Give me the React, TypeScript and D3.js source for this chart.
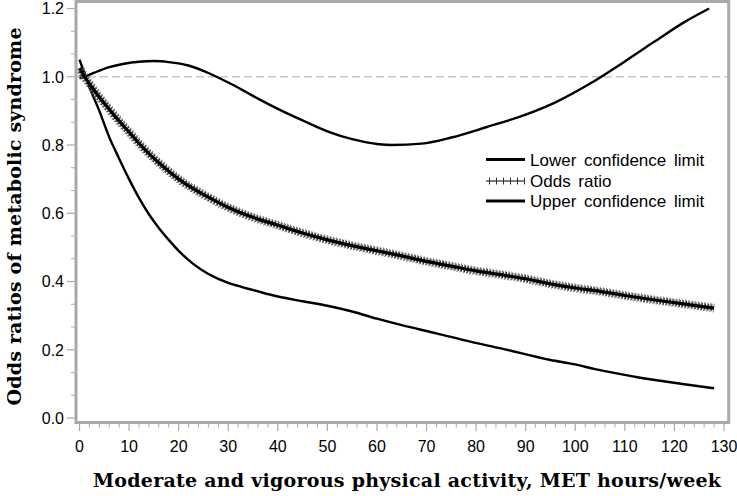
import React from "react";
import * as d3 from "d3";

const xTicks = [0, 10, 20, 30, 40, 50, 60, 70, 80, 90, 100, 110, 120, 130];
const yTicks = [0, 0.2, 0.4, 0.6, 0.8, 1.0, 1.2];

const lowerX = [0, 1, 2, 4, 6, 8, 10, 12, 14, 16, 18, 20, 22.8, 26, 30, 33, 36, 40, 45, 50, 55, 60, 65, 72, 79, 85, 95, 100, 104, 112, 122, 128];
const lowerY = [1.05, 1.01, 0.97, 0.9, 0.823, 0.76, 0.7, 0.645, 0.597, 0.557, 0.522, 0.49, 0.453, 0.422, 0.396, 0.383, 0.371, 0.356, 0.342, 0.329, 0.312, 0.291, 0.272, 0.248, 0.223, 0.204, 0.17, 0.157, 0.143, 0.121, 0.099, 0.087];

const oddsX = [0, 1, 2, 4, 6, 8, 10, 12, 14, 16, 18, 20, 25, 30, 35, 40, 45, 50, 55, 60, 65, 70, 75, 80, 85, 90, 95, 100, 105, 110, 115, 120, 125, 128];
const oddsY = [1.025, 1.0, 0.98, 0.94, 0.905, 0.87, 0.838, 0.805, 0.775, 0.748, 0.723, 0.7, 0.655, 0.617, 0.588, 0.565, 0.542, 0.522, 0.505, 0.49, 0.475, 0.459, 0.445, 0.431, 0.42, 0.408, 0.393, 0.381, 0.371, 0.359, 0.348, 0.338, 0.328, 0.322];

const upperX = [0, 1, 3, 6, 9, 12, 15, 18, 22, 26, 30, 33, 36, 40, 45, 50, 55, 60, 63, 69, 75, 82, 90, 96, 103, 110, 116, 122, 127];
const upperY = [0.995, 1.0, 1.012, 1.028, 1.038, 1.044, 1.046, 1.043, 1.033, 1.011, 0.983, 0.96, 0.936, 0.906, 0.872, 0.84, 0.817, 0.803, 0.8, 0.804, 0.822, 0.852, 0.889, 0.925, 0.98, 1.045, 1.103, 1.16, 1.2];

const legendLabels = ["Lower confidence limit", "Odds ratio", "Upper confidence limit"];
const xLabel = "Moderate and vigorous physical activity, MET hours/week";
const yLabel = "Odds ratios of metabolic syndrome";

export default function App() {
  const W = 737, H = 496;
  const frame = { l: 76, t: 1.5, r: 728.7, b: 422.5 };
  const x = d3.scaleLinear().domain([0, 130]).range([79.5, 724]);
  const y = d3.scaleLinear().domain([0, 1.2]).range([418, 8.5]);

  const line = d3
    .line<[number, number]>()
    .x((d) => x(d[0]))
    .y((d) => y(d[1]))
    .curve(d3.curveMonotoneX);

  const lowerPath = line(lowerX.map((v, i) => [v, lowerY[i]]) as [number, number][]) || "";
  const oddsPath = line(oddsX.map((v, i) => [v, oddsY[i]]) as [number, number][]) || "";
  const upperPath = line(upperX.map((v, i) => [v, upperY[i]]) as [number, number][]) || "";

  const xMinor = d3.range(0, 131, 2).filter((v) => v % 10 !== 0);
  const yMinor = d3.range(0, 19).map((i) => (i * 0.2) / 3).filter((_, i) => i % 3 !== 0);

  const tickFont = "'Liberation Sans', Arial, sans-serif";
  const serif = "'DejaVu Serif', serif";
  const axisGray = "#a8a8a8";

  const legX1 = 486, legX2 = 525, legTextX = 530;
  const legRows = [159.5, 181, 201];

  return (
    <div style={{ position: "absolute", left: 0, top: 0 }}>
      <svg width={W} height={H} style={{ display: "block", background: "#fff" }}>
        {/* reference line */}
        <line x1={frame.l} x2={frame.r} y1={y(1)} y2={y(1)} stroke="#c8c8c8" strokeWidth={1.5} strokeDasharray="8 4" />

        {/* curves */}
        <path d={upperPath} fill="none" stroke="#000" strokeWidth={2.4} />
        <path d={lowerPath} fill="none" stroke="#000" strokeWidth={2.4} />
        <path d={oddsPath} fill="none" stroke="#777" strokeWidth={9} strokeDasharray="1 2.2" strokeDashoffset={1} />
        <path d={oddsPath} fill="none" stroke="#222" strokeWidth={7} strokeDasharray="1 2.2" />
        <path d={oddsPath} fill="none" stroke="#000" strokeWidth={3.2} />

        {/* frame */}
        <rect x={frame.l} y={frame.t} width={frame.r - frame.l} height={frame.b - frame.t} fill="none" stroke={axisGray} strokeWidth={3} />

        {/* y ticks */}
        {yTicks.map((t) => (
          <g key={"y" + t}>
            <line x1={67} x2={74.5} y1={y(t)} y2={y(t)} stroke={axisGray} strokeWidth={1.2} />
            <text x={64} y={y(t)} dy="0.36em" textAnchor="end" fontFamily={tickFont} fontSize={16} fill="#000">
              {t.toFixed(1)}
            </text>
          </g>
        ))}
        {yMinor.map((t, i) => (
          <line key={"ym" + i} x1={71} x2={74.5} y1={y(t)} y2={y(t)} stroke={axisGray} strokeWidth={1} />
        ))}

        {/* x ticks */}
        {xTicks.map((t) => (
          <g key={"x" + t}>
            <line x1={x(t)} x2={x(t)} y1={424} y2={431} stroke={axisGray} strokeWidth={1.2} />
            <text x={x(t)} y={451.5} textAnchor="middle" fontFamily={tickFont} fontSize={16} fill="#000">
              {t}
            </text>
          </g>
        ))}
        {xMinor.map((t) => (
          <line key={"xm" + t} x1={x(t)} x2={x(t)} y1={424} y2={427.5} stroke={axisGray} strokeWidth={1} />
        ))}

        {/* axis labels */}
        <text x={407} y={487} textAnchor="middle" fontFamily={serif} fontWeight="bold" fontSize={19} textLength={628} lengthAdjust="spacing" fill="#000">
          {xLabel}
        </text>
        <text
          transform={`translate(20.5, 216.5) rotate(-90)`}
          textAnchor="middle"
          fontFamily={serif}
          fontWeight="bold"
          fontSize={19}
          textLength={378}
          lengthAdjust="spacing"
          fill="#000"
        >
          {yLabel}
        </text>

        {/* legend */}
        <line x1={legX1} x2={legX2} y1={legRows[0]} y2={legRows[0]} stroke="#000" strokeWidth={3} />
        <line x1={legX1} x2={legX2} y1={legRows[1]} y2={legRows[1]} stroke="#000" strokeWidth={1.2} />
        <line x1={legX1} x2={legX2} y1={legRows[1]} y2={legRows[1]} stroke="#333" strokeWidth={7} strokeDasharray="1 6" strokeDashoffset={-3} />
        <line x1={legX1} x2={legX2} y1={legRows[2]} y2={legRows[2]} stroke="#000" strokeWidth={3} />
        {legendLabels.map((l, i) => (
          <text
            key={l}
            x={legTextX}
            y={legRows[i]}
            dy="0.36em"
            fontFamily={tickFont}
            fontSize={17}
            wordSpacing={3}
            fill="#000"
          >
            {l}
          </text>
        ))}
      </svg>
    </div>
  );
}
